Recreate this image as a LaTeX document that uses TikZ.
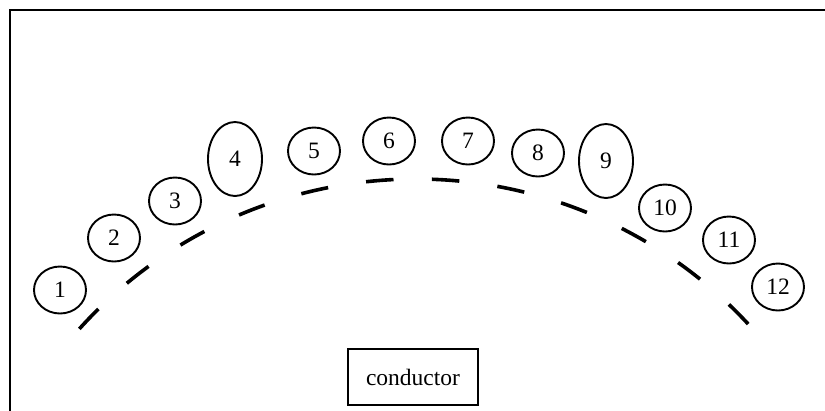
\documentclass[tikz,border=0pt]{standalone}
\usepackage{fontspec}
\setmainfont{Liberation Serif}
\usetikzlibrary{shapes.geometric}
\begin{document}
\begin{tikzpicture}[x=1pt,y=-1pt,
  blob/.style={draw,ellipse,line width=1.9pt,inner sep=0pt,minimum width=52pt,minimum height=47pt,font=\fontsize{23.5}{28}\selectfont},
  tallblob/.style={blob,minimum width=54pt,minimum height=74pt},
  labelbox/.style={draw,rectangle,line width=2pt,inner sep=0pt,minimum width=130pt,minimum height=56pt,font=\fontsize{23.5}{28}\selectfont},
  frame/.style={line width=2pt},
  conductorline/.style={line width=3.6pt,dash pattern=on 27.5pt off 38.4pt}]
\useasboundingbox (0,0) rectangle (825,410);
\fill[white] (0,0) rectangle (825,410);
\draw[frame] (10,412) -- (10,10) -- (827,10);
\node[blob] (n1) at (60,290) {1};
\node[blob] (n2) at (114,238) {2};
\node[blob] (n3) at (175,201) {3};
\node[tallblob] (n4) at (235,159) {4};
\node[blob] (n5) at (314,151) {5};
\node[blob] (n6) at (389,141) {6};
\node[blob] (n7) at (468,141) {7};
\node[blob] (n8) at (538,153) {8};
\node[tallblob] (n9) at (606,161) {9};
\node[blob] (n10) at (665,208) {10};
\node[blob] (n11) at (729,240) {11};
\node[blob] (n12) at (778,287) {12};
\node[labelbox] (cond) at (413,377) {conductor};
\coordinate (arcc) at (416,632);
\draw[conductorline] ([shift={(138:453pt)}]arcc) arc[start angle=138,end angle=42.8,radius=453pt];
\end{tikzpicture}
\end{document}
